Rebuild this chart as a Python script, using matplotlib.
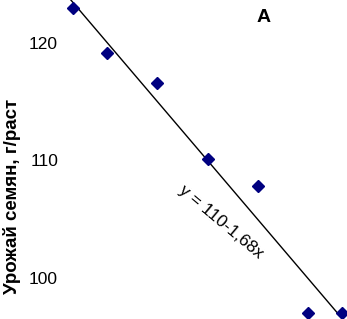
import numpy as np
import matplotlib.pyplot as plt

plt.rcParams['font.family'] = ['Liberation Sans', 'DejaVu Sans']

# Данные
x_vals = [-8, -6, -3, 0, 3, 6, 8]
y_vals = [123.0, 119.15, 116.6, 110.15, 107.8, 97.0, 97.0]
y_ticks = [100, 110, 120]
intercept = 110
slope = -1.68

fig = plt.figure(figsize=(3.47, 3.19), dpi=100)
ax = fig.add_axes([65 / 347, 0, 1 - 65 / 347, 1])

# Линия тренда
xl = np.array([-9, 9])
ax.plot(xl, intercept + slope * xl, color="black", linewidth=1)

# Точки
ax.plot(x_vals, y_vals, linestyle="none", marker="D", markersize=6,
        color="#000080", clip_on=False, zorder=3)

ax.set_xlim(-8.48, 8.30)
ax.set_ylim(96.5, 123.66)
ax.set_yticks(y_ticks)
ax.set_xticks([])
ax.tick_params(axis="y", length=0, labelsize=12.5, pad=5)
for s in ax.spines.values():
    s.set_visible(False)

# Подписи
fig.text(12 / 347, 1 - 196 / 319, "Урожай семян, г/раст", rotation=90,
         fontsize=13.5, fontweight="bold", ha="center", va="center")
fig.text(264 / 347, 1 - 18 / 319, "A", fontsize=14, fontweight="bold",
         ha="center", va="center")
fig.text(221 / 347, 1 - 222 / 319, "y = 110-1,68x", rotation=-40,
         fontsize=12.5, ha="center", va="center", rotation_mode="anchor")

fig.savefig("out.png", dpi=100)
